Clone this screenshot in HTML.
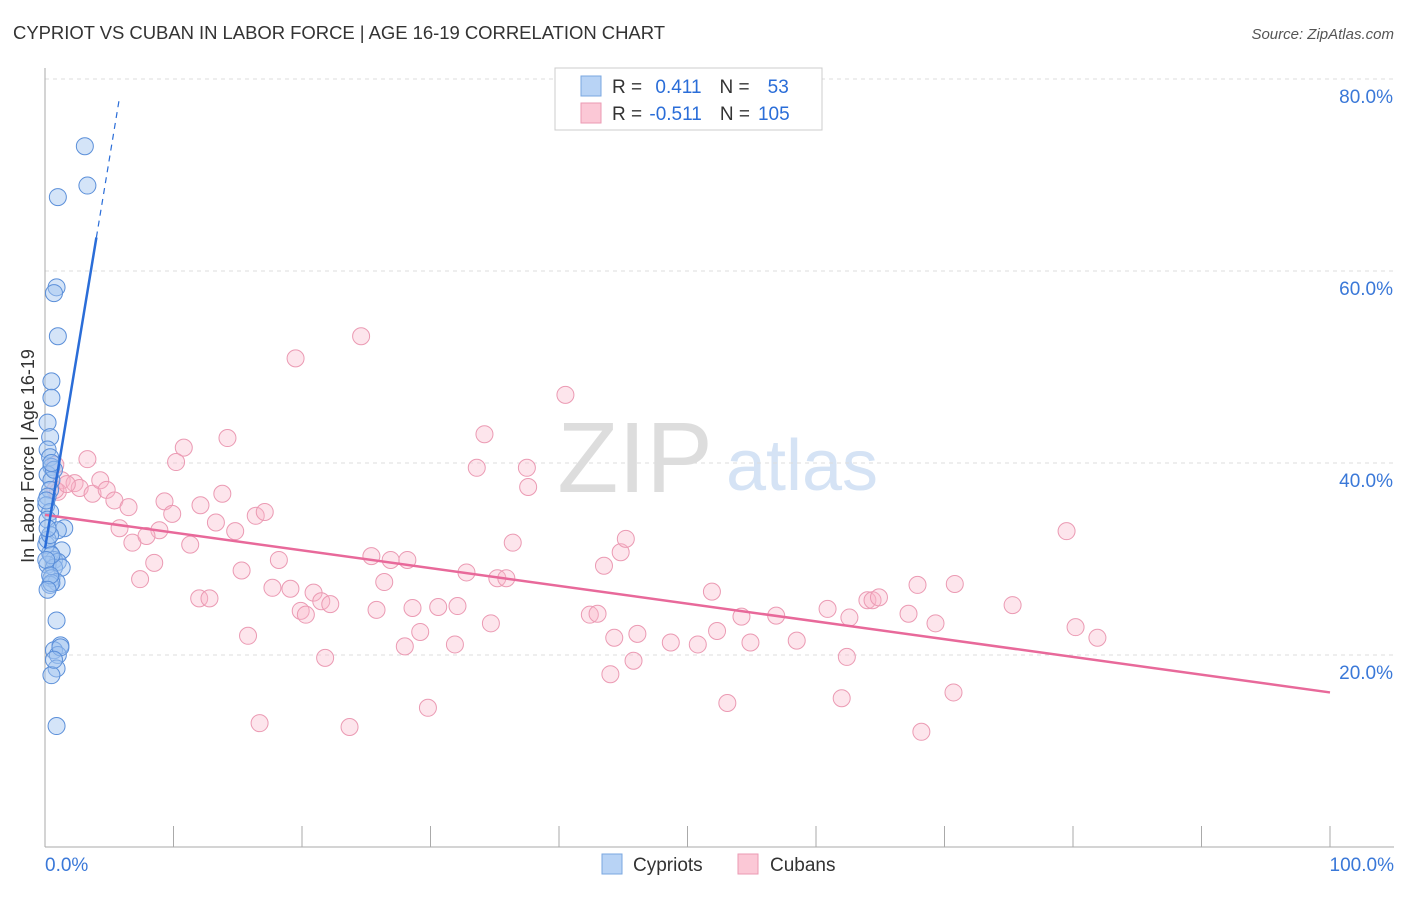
<!DOCTYPE html>
<html><head><meta charset="utf-8"><style>
body{margin:0;background:#fff;font-family:"Liberation Sans",sans-serif;}
svg text{font-family:"Liberation Sans",sans-serif;}
</style></head><body>
<svg id="chart" width="1406" height="892">
<text x="13" y="39" font-size="18.5" fill="#333" textLength="652">CYPRIOT VS CUBAN IN LABOR FORCE | AGE 16-19 CORRELATION CHART</text>
<text x="1394" y="39" font-size="15" fill="#555" font-style="italic" text-anchor="end">Source: ZipAtlas.com</text>
<g>
<text x="635" y="492" font-size="100" fill="#ddd" text-anchor="middle" font-family="Liberation Serif,serif">ZIP</text>
<text x="802" y="490" font-size="72" fill="#d5e3f5" text-anchor="middle">atlas</text>
</g>
<g id="grid"></g><g id="axes"></g><g id="pts"></g><g id="lines"></g>
<g>
<rect x="555" y="68" width="267" height="62" fill="#fff" stroke="#ccc"/>
<rect x="581" y="76" width="20" height="20" fill="#b8d3f5" stroke="#7aa7e0"/>
<rect x="581" y="103" width="20" height="20" fill="#fbc8d6" stroke="#eb9ab3"/>
<text x="612" y="93" font-size="19" fill="#333">R = <tspan fill="#2a6dd8" dx="8">0.411</tspan><tspan dx="18">N =</tspan><tspan fill="#2a6dd8" dx="18">53</tspan></text>
<text x="612" y="120" font-size="19" fill="#333">R = <tspan fill="#2a6dd8" dx="2">-0.511</tspan><tspan dx="18">N =</tspan><tspan fill="#2a6dd8" dx="8">105</tspan></text>
</g>
<g>
<rect x="602" y="854" width="20" height="20" fill="#b8d3f5" stroke="#7aa7e0"/>
<text x="633" y="871" font-size="19" fill="#333">Cypriots</text>
<rect x="738" y="854" width="20" height="20" fill="#fbc8d6" stroke="#eb9ab3"/>
<text x="770" y="871" font-size="19" fill="#333">Cubans</text>
</g>
<text transform="translate(34,456) rotate(-90)" font-size="18" fill="#333" text-anchor="middle">In Labor Force | Age 16-19</text>
</svg>
<script>
const yTicks=[20,40,60,80];
const yTickLabels=["20.0%","40.0%","60.0%","80.0%"];
const xTickLabels=["0.0%","100.0%"];
const cypX=[3.1,3.3,1.0,0.9,0.7,1.0,0.5,0.5,0.2,0.4,0.2,0.4,0.5,0.2,0.5,0.4,0.2,0.1,0.4,0.2,1.5,1.0,1.3,0.4,0.1,0.7,1.0,0.2,0.7,1.3,0.5,0.9,0.4,0.5,0.9,1.2,0.7,1.0,0.9,0.5,0.9,0.2,0.4,0.1,0.7,0.2,0.5,0.1,0.4,0.2,1.2,0.7,0.5];
const cypY=[73.0,68.9,67.7,58.3,57.7,53.2,48.5,46.8,44.2,42.7,41.4,40.6,39.6,38.8,38.2,37.2,36.5,35.6,34.9,34.1,33.2,33.0,30.9,30.6,31.5,29.9,29.7,29.4,29.1,29.1,28.0,27.6,27.3,27.5,23.6,21.0,20.5,20.0,18.6,17.9,12.6,32.0,32.5,36.1,39.3,33.2,30.4,29.9,28.3,26.8,20.8,19.5,40.0];
const cubX=[19.5,24.6,40.5,34.2,10.8,14.2,10.2,3.3,33.6,37.5,37.6,0.8,1.3,1.0,2.3,2.7,3.7,4.3,4.8,5.4,6.5,9.3,9.9,12.1,13.8,5.8,6.8,8.9,7.9,11.3,13.3,14.8,16.4,17.1,8.5,7.4,15.3,18.2,25.4,26.9,28.2,26.4,32.8,35.2,35.9,36.4,43.5,44.8,45.2,79.5,12.0,12.8,17.7,19.1,20.9,21.5,22.2,19.9,20.3,25.8,28.6,30.6,32.1,34.7,42.4,43.0,44.3,46.1,48.7,50.8,51.9,52.3,54.2,54.9,56.9,58.5,60.9,62.6,64.0,64.4,64.9,67.2,67.9,69.3,70.8,75.3,80.2,81.9,15.8,21.8,29.2,31.9,28.0,45.8,44.0,53.1,62.0,62.4,70.7,68.2,16.7,23.7,29.8,0.8,1.7];
const cubY=[50.9,53.2,47.1,43.0,41.6,42.6,40.1,40.4,39.5,39.5,37.5,39.8,38.2,37.0,37.9,37.4,36.8,38.2,37.2,36.1,35.4,36.0,34.7,35.6,36.8,33.2,31.7,33.0,32.4,31.5,33.8,32.9,34.5,34.9,29.6,27.9,28.8,29.9,30.3,29.9,29.9,27.6,28.6,28.0,28.0,31.7,29.3,30.7,32.1,32.9,25.9,25.9,27.0,26.9,26.5,25.6,25.3,24.6,24.2,24.7,24.9,25.0,25.1,23.3,24.2,24.3,21.8,22.2,21.3,21.1,26.6,22.5,24.0,21.3,24.1,21.5,24.8,23.9,25.7,25.7,26.0,24.3,27.3,23.3,27.4,25.2,22.9,21.8,22.0,19.7,22.4,21.1,20.9,19.4,18.0,15.0,15.5,19.8,16.1,12.0,12.9,12.5,14.5,37.2,37.8];
const cypFit=[31.1,8.1]; // intercept, slope
const cubFit=[34.6,-0.185];
const NS="http://www.w3.org/2000/svg";
const X=v=>45+v*12.85, Y=v=>847-v*9.6;
function mk(tag,attrs,parent){const e=document.createElementNS(NS,tag);for(const k in attrs)e.setAttribute(k,attrs[k]);document.getElementById(parent).appendChild(e);return e;}
yTicks.forEach((t,i)=>{
 const g=mk('line',{x1:45,x2:1394,y1:Y(t),y2:Y(t),stroke:'#ddd','stroke-dasharray':'4,4'},'grid');
 
 
 const l=mk('text',{x:1393,y:Y(t)+24,'font-size':19,fill:'#3a78d8','text-anchor':'end'},'grid');
 l.textContent=yTickLabels[i];
 
 
});
const ax=mk('line',{x1:45,x2:45,y1:68,y2:847,stroke:'#aaa'},'axes');


const bx=mk('line',{x1:45,x2:1394,y1:847,y2:847,stroke:'#aaa'},'axes');


for(let i=0;i<=10;i++){const t=mk('line',{x1:X(i*10),x2:X(i*10),y1:826,y2:847,stroke:'#aaa'},'axes');
 
 }
[[0,'start',45],[100,'end',1394]].forEach((d,i)=>{const t=mk('text',{x:d[2],y:871,'font-size':19,fill:'#3a78d8','text-anchor':d[1]},'axes');t.textContent=xTickLabels[i];
 
 });
cubX.forEach((x,i)=>{const c=mk('circle',{cx:X(x),cy:Y(cubY[i]),r:8.5,fill:'rgba(248,180,200,0.35)',stroke:'#eb9ab3','stroke-width':1},'pts');
 
 });
cypX.forEach((x,i)=>{const c=mk('circle',{cx:X(x),cy:Y(cypY[i]),r:8.5,fill:'rgba(160,196,240,0.45)',stroke:'#5b8fd9','stroke-width':1},'pts');
 
 });
const l1=mk('line',{x1:X(0),y1:Y(cubFit[0]),x2:X(100),y2:Y(cubFit[0]+cubFit[1]*100),stroke:'#e8699a','stroke-width':2.5},'lines');


const xs=4.0,xe=5.8;
const l2=mk('line',{x1:X(0),y1:Y(cypFit[0]),x2:X(xs),y2:Y(cypFit[0]+cypFit[1]*xs),stroke:'#2a6dd8','stroke-width':2.5},'lines');


const l3=mk('line',{x1:X(xs),y1:Y(cypFit[0]+cypFit[1]*xs),x2:X(xe),y2:Y(cypFit[0]+cypFit[1]*xe),stroke:'#2a6dd8','stroke-width':1.2,'stroke-dasharray':'6,5'},'lines');


</script>
</body></html>
